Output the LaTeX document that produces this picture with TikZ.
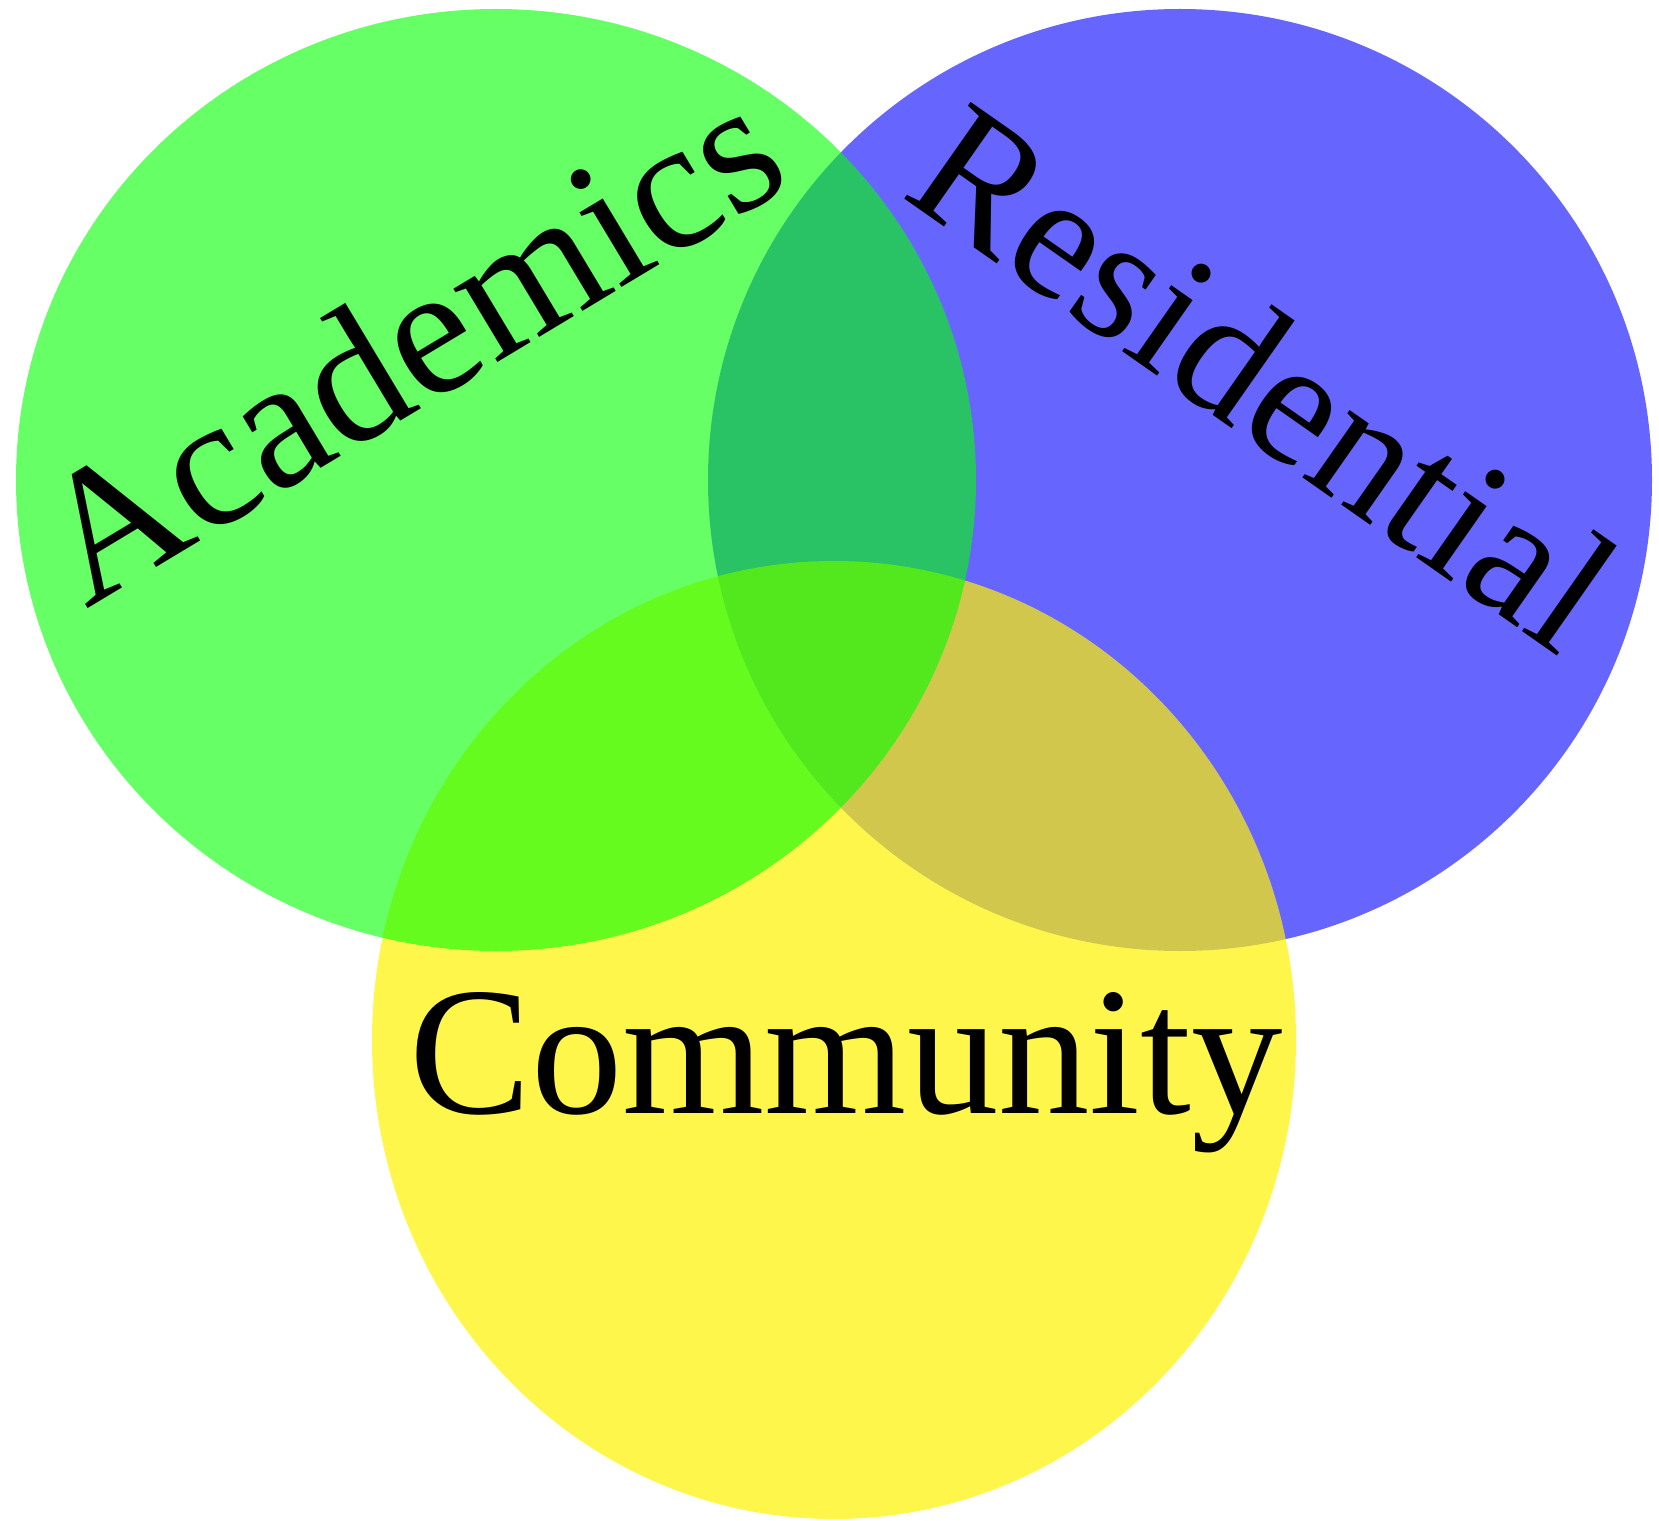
\documentclass[tikz,border=0pt]{standalone}
\usepackage{fontspec}
\setmainfont{Liberation Serif}
\usepackage{tikz}
\usetikzlibrary{shapes.geometric,positioning}

\begin{document}
\begin{tikzpicture}[set node/.style={ellipse, inner sep=0pt, outer sep=0pt},label node/.style={inner sep=0pt, font=\fontsize{51}{60}\selectfont}]
				\useasboundingbox (0,0) rectangle (16.59,15.20);
				
				\node[set node, minimum width=9.44cm, minimum height=9.42cm, fill=blue, fill opacity=.6] (res) at (11.80,10.40) {};
				\node[set node, minimum width=9.24cm, minimum height=9.58cm, fill=yellow, fill opacity=.7] (com) at (8.34,4.80) {};
				\node[set node, minimum width=9.60cm, minimum height=9.42cm, fill=green, fill opacity=.6] (aca) at (4.96,10.40) {};
				
				\node[label node, font=\fontsize{53}{60}\selectfont, anchor=base west, rotate=31] (acalabel) at (0.86,9.10) {Academics};
				\node[label node, anchor=base west, rotate=-35] (reslabel) at (8.99,13.25) {Residential};
				\node[label node, font=\fontsize{52}{60}\selectfont, anchor=base] (comlabel) at (8.46,4.07) {Community};
				
				\end{tikzpicture}
\end{document}
